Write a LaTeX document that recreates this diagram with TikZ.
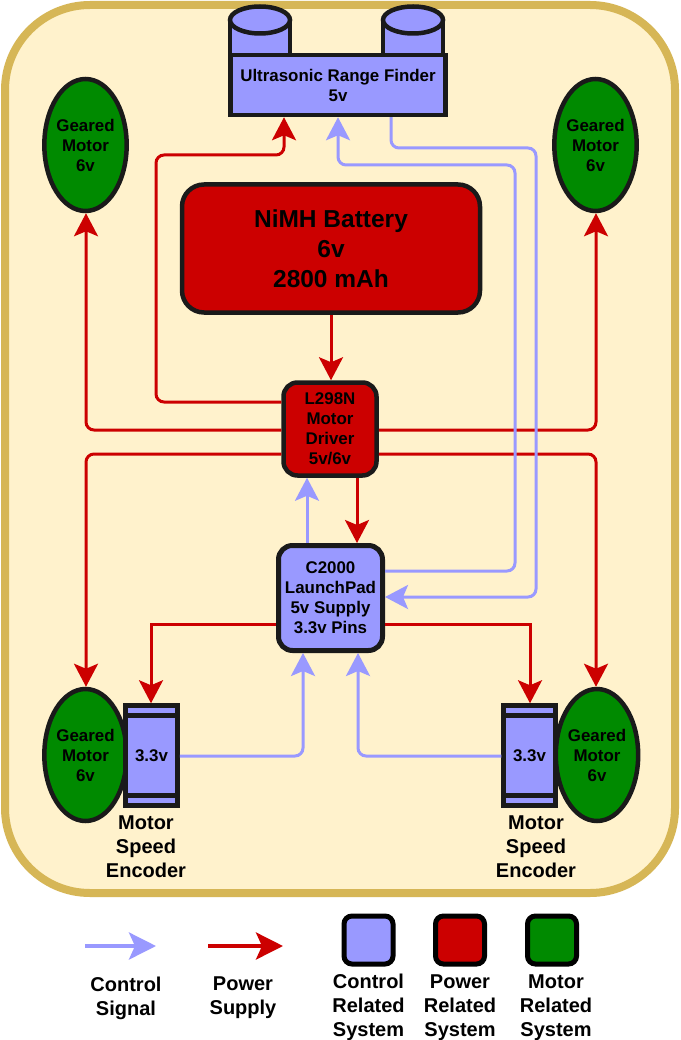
\documentclass[tikz,border=0pt]{standalone}
\usepackage{fontspec}
\setmainfont{Liberation Sans}
\usetikzlibrary{arrows.meta,shapes.geometric}
\definecolor{ctl}{HTML}{9999FF}
\definecolor{pwr}{HTML}{CC0000}
\definecolor{mot}{HTML}{008A00}
\definecolor{ink}{HTML}{1A1A1A}
\definecolor{pagebg}{HTML}{FFF2CC}
\definecolor{pageln}{HTML}{D6B656}
\newcommand{\lbl}{\bfseries\fontsize{16.9}{20}\selectfont}
\newcommand{\lblb}{\bfseries\fontsize{20}{24}\selectfont}
\tikzset{
 box/.style={draw=ink,line width=4.5pt,align=center,font=\lbl,text=black,inner sep=0pt},
 ctlbox/.style={box,fill=ctl},
 motornode/.style={box,ellipse,fill=mot,minimum width=81pt,minimum height=132pt},
 encbody/.style={ctlbox,minimum width=52pt,minimum height=100pt},
 encbar/.style={draw=ink,line width=4.5pt},
 caption/.style={align=center,font=\lblb,text=black,inner sep=0pt},
 conn/.style={line width=3pt,rounded corners=8pt},
 ctlline/.style={conn,draw=ctl,-{Stealth[length=23pt,width=24pt,inset=5pt]}},
 pwrline/.style={conn,draw=pwr,-{Stealth[length=23pt,width=24pt,inset=5pt]}},
 ctlkey/.style={line width=4pt,draw=ctl,-{Stealth[length=27pt,width=27pt,inset=6pt]}},
 pwrkey/.style={line width=4pt,draw=pwr,-{Stealth[length=27pt,width=27pt,inset=6pt]}},
 swatch/.style={draw=black,line width=5pt,rounded corners=8pt,minimum width=49pt,minimum height=48pt,inner sep=0pt},
}
\begin{document}
\begin{tikzpicture}[x=1pt,y=-1pt]
\useasboundingbox (0,0) rectangle (680,1040);
\fill[white] (0,0) rectangle (680,1040);
\draw[draw=pageln,fill=pagebg,line width=8pt,rounded corners=85pt] (5,5) rectangle (675,893);
% ultrasonic cylinders
\foreach \cx in {260,413}{
 \filldraw[fill=ctl,draw=ink,line width=4.5pt] (\cx-30,20) -- (\cx-30,60) -- (\cx+30,60) -- (\cx+30,20) -- cycle;
 \filldraw[fill=ctl,draw=ink,line width=4.5pt] (\cx,20) ellipse[x radius=30,y radius=13.5];
}
\node[ctlbox,minimum width=215pt,minimum height=60pt] (rf) at (338,85) {Ultrasonic Range Finder\\5v};
\node[motornode] (tl) at (85.5,145) {Geared\\Motor\\6v};
\node[motornode] (tr) at (595.5,145) {Geared\\Motor\\6v};
\node[motornode] (bl) at (85.5,755) {Geared\\Motor\\6v};
\node[motornode] (br) at (597,755) {Geared\\Motor\\6v};
\node[box,fill=pwr,rounded corners=22pt,minimum width=298pt,minimum height=128pt,font=\bfseries\fontsize{24.5}{30}\selectfont] (bat) at (331,248.5) {NiMH Battery\\6v\\2800 mAh};
\node[box,fill=pwr,rounded corners=14pt,minimum width=93pt,minimum height=93pt] (drv) at (330,429) {L298N\\Motor\\Driver\\5v/6v};
\node[ctlbox,line width=5pt,rounded corners=14pt,minimum width=104pt,minimum height=105pt] (mcu) at (330.5,598) {C2000\\LaunchPad\\5v Supply\\3.3v Pins};
% encoders
\node[encbody] (el) at (151.5,755.5) {3.3v};
\node[encbody] (er) at (529.5,755.5) {3.3v};
\foreach \e in {el,er}{
 \draw[encbar] (\e.north west |- 0,715.5) -- (\e.north east |- 0,715.5);
 \draw[encbar] (\e.north west |- 0,795.5) -- (\e.north east |- 0,795.5);
}
\node[caption] (cl) at (146,847) {Motor\\Speed\\Encoder};
\node[caption] (cr) at (536,847) {Motor\\Speed\\Encoder};
% power connectors
\draw[pwrline] (bat.south -| 331,0) -- (drv.north -| 331,0);
\draw[pwrline] (drv.west |- 0,402) -- (156,402) -- (156,155) -- (284,155) -- (rf.south -| 284,0);
\draw[pwrline] (drv.west |- 0,430) -- (86,430) -- (tl.south -| 86,0);
\draw[pwrline] (drv.east |- 0,430) -- (596,430) -- (tr.south -| 596,0);
\draw[pwrline] (drv.west |- 0,454) -- (86,454) -- (bl.north -| 86,0);
\draw[pwrline] (drv.east |- 0,454) -- (596,454) -- (br.north -| 596,0);
\draw[pwrline] (drv.south -| 357,0) -- (mcu.north -| 357,0);
\draw[pwrline,rounded corners=0pt] (mcu.west |- 0,624) -- (151,624) -- (el.north -| 151,0);
\draw[pwrline,rounded corners=0pt] (mcu.east |- 0,624) -- (530,624) -- (er.north -| 530,0);
% control connectors
\draw[ctlline] (mcu.north -| 307,0) -- (drv.south -| 307,0);
\draw[ctlline] (mcu.east |- 0,571) -- (515,571) -- (515,165) -- (338,165) -- (rf.south -| 338,0);
\draw[ctlline] (rf.south -| 391,0) -- (391,148) -- (536,148) -- (536,597) -- (mcu.east |- 0,597);
\draw[ctlline] (el.east |- 0,756) -- (303,756) -- (mcu.south -| 303,0);
\draw[ctlline] (er.west |- 0,756) -- (358,756) -- (mcu.south -| 358,0);
% legend
\coordinate (ka) at (85,946); \coordinate (kb) at (156,946);
\coordinate (kc) at (208,946); \coordinate (kd) at (283,946);
\draw[ctlkey] (ka) -- (kb);
\draw[pwrkey] (kc) -- (kd);
\node[caption] (t1) at (126,998) {Control\\Signal};
\node[caption] (t2) at (243,998) {Power\\Supply};
\node[swatch,fill=ctl] (s1) at (368.5,940) {};
\node[swatch,fill=pwr] (s2) at (460,940) {};
\node[swatch,fill=mot] (s3) at (552,940) {};
\node[caption] (t3) at (368.5,1007) {Control\\Related\\System};
\node[caption] (t4) at (460,1008) {Power\\Related\\System};
\node[caption] (t5) at (556,1008) {Motor\\Related\\System};
\end{tikzpicture}
\end{document}
